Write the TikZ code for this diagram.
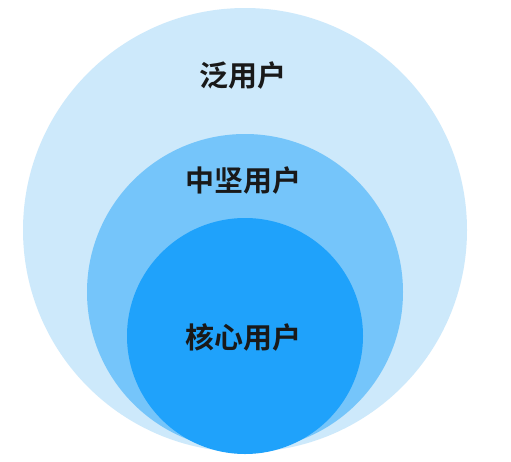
\documentclass[tikz,border=0pt]{standalone}
\usepackage{fontspec}
\newfontfamily\cjk{Noto Sans CJK SC}[BoldFont={Noto Sans CJK SC Bold}]
\begin{document}
\begin{tikzpicture}[x=1pt,y=-1pt,
  ring/.style={circle,inner sep=0pt,minimum size=#1},
  lbl/.style={font=\cjk\fontsize{29}{34}\selectfont\bfseries,text=black!90}]
\definecolor{cOuter}{RGB}{205,233,251}
\definecolor{cMid}{RGB}{117,197,250}
\definecolor{cInner}{RGB}{31,162,251}
\fill[white] (0,0) rectangle (511,461);
\useasboundingbox (0,0) rectangle (511,461);
\node[ring=444pt,fill=cOuter] (outer) at (245,230) {};
\node[ring=316pt,fill=cMid] (mid) at (245,292) {};
\node[ring=236pt,fill=cInner] (inner) at (245,336) {};
\node[lbl] (t1) at (243,76) {泛用户};
\node[lbl] (t2) at (243,181) {中坚用户};
\node[lbl] (t3) at (243,337) {核心用户};
\end{tikzpicture}
\end{document}
